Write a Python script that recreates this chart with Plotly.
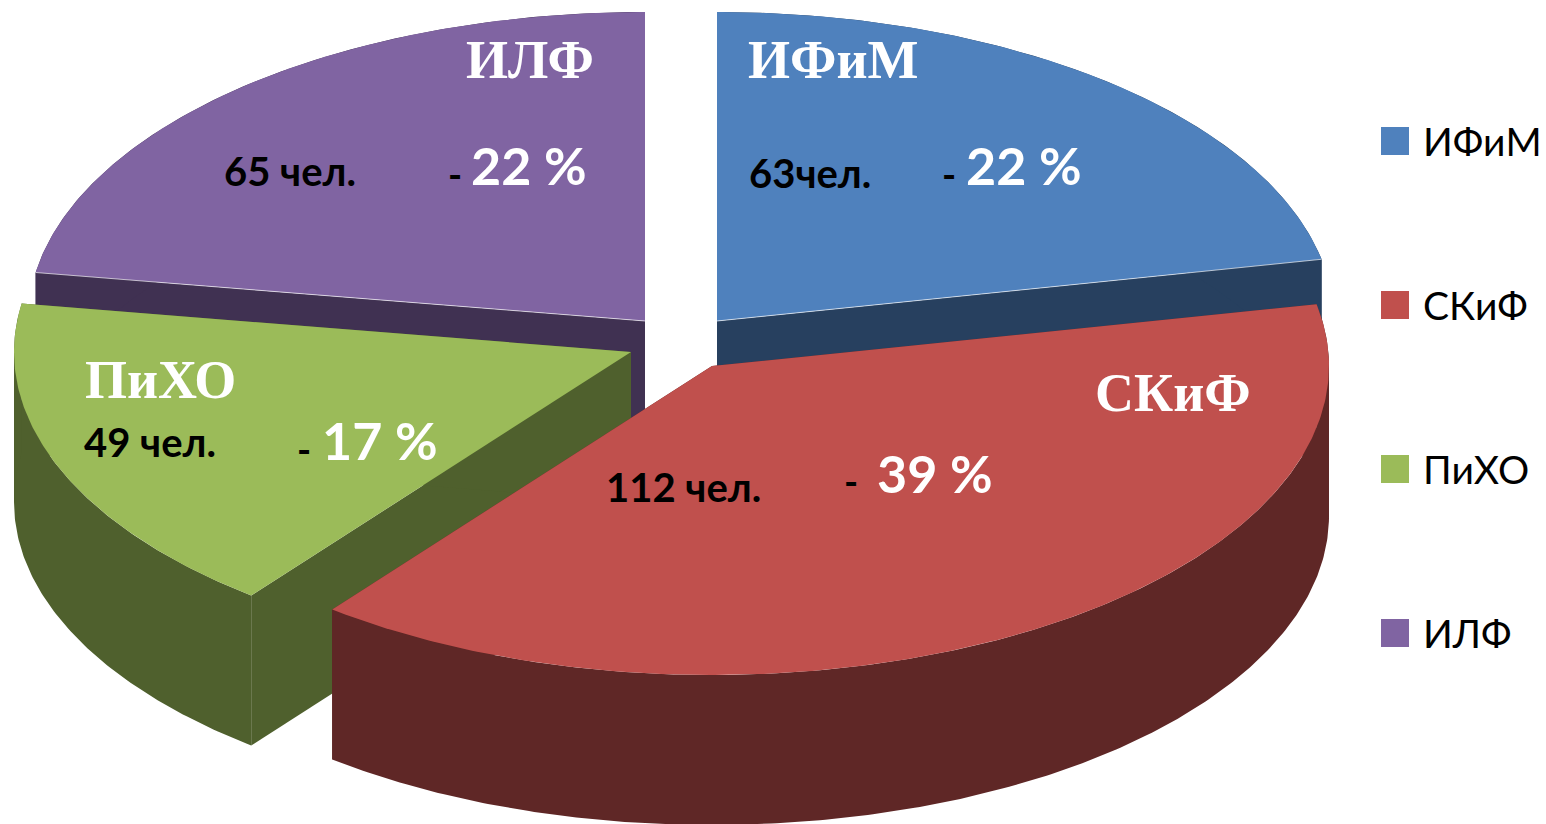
import numpy as np
import plotly.graph_objects as go

# ---- data ----
categories = ["ИФиМ", "СКиФ", "ПиХО", "ИЛФ"]
people = [63, 112, 49, 65]
percent_labels = ["22 %", "39 %", "17 %", "22 %"]
people_labels = ["63чел.", "112 чел.", "49 чел.", "65 чел."]

# ---- styles and layout ----
W, H = 1546, 824
top_colors = ["#4F81BD", "#C0504D", "#9BBB59", "#8064A2"]
side_colors = ["#27405F", "#5F2726", "#4F602D", "#403152"]
apex_x = [717, 712, 631, 645]
apex_y = [321, 366, 352, 321]
RX, RY, DEPTH = 617, 309, 150
draw_order = [3, 0, 2, 1]
highlight_edge = {0: -1, 3: 0}   # slice -> which end of its arc has a light seam

name_pos = [(746, 60), (1093, 393), (83, 380), (464, 60)]
count_pos = [(747, 173), (604, 487), (82, 442), (222, 171)]
dash_pos = [(940, 174), (842, 481), (295, 449), (446, 174)]
pct_pos = [(964, 165), (875, 473), (320, 440), (469, 165)]
LEGEND_X, LEGEND_Y, LEGEND_STEP, LEGEND_TEXT_X = 1395, 141, 164, 1421


def arc(cx, cy, a0, a1):
    t = np.radians(np.linspace(a0, a1, max(int(abs(a1 - a0)) * 2, 2)))
    return cx + RX * np.sin(t), cy - RY * np.cos(t)


def poly(x, y, color, name):
    return go.Scatter(
        x=np.append(x, x[0]), y=np.append(y, y[0]), mode="lines", fill="toself",
        fillcolor=color, line=dict(width=0, color=color), name=name,
        hoverinfo="name", showlegend=False,
    )


shares = np.array(people) / sum(people) * 360
starts = np.concatenate([[0], np.cumsum(shares)[:-1]])
ends = np.cumsum(shares)

fig = go.Figure()
for i in draw_order:
    cx, cy = apex_x[i], apex_y[i]
    ax, ay = arc(cx, cy, starts[i], ends[i])
    side = side_colors[i]
    name = categories[i]
    # radial walls
    for px, py in [(ax[0], ay[0]), (ax[-1], ay[-1])]:
        fig.add_trace(poly(np.array([cx, px, px, cx]),
                           np.array([cy, py, py + DEPTH, cy + DEPTH]), side, name))
    # outer wall, split where the ellipse turns back so the pieces do not cancel
    cuts = [starts[i]] + [a for a in (90, 270) if starts[i] < a < ends[i]] + [ends[i]]
    for a0, a1 in zip(cuts[:-1], cuts[1:]):
        wx, wy = arc(cx, cy, a0, a1)
        fig.add_trace(poly(np.concatenate([wx, wx[::-1]]),
                           np.concatenate([wy, wy[::-1] + DEPTH]), side, name))
    # top face
    fig.add_trace(poly(np.concatenate([[cx], ax]), np.concatenate([[cy], ay]),
                       top_colors[i], name))
    # light seam between top face and radial wall
    if i in highlight_edge:
        k = highlight_edge[i]
        fig.add_trace(go.Scatter(
            x=[cx, ax[k]], y=[cy, ay[k]], mode="lines", name=name,
            line=dict(width=1, color="rgba(255,255,255,0.65)"),
            hoverinfo="skip", showlegend=False,
        ))

# legend keys
for i, name in enumerate(categories):
    fig.add_trace(go.Scatter(
        x=[LEGEND_X], y=[LEGEND_Y + i * LEGEND_STEP], mode="markers",
        marker=dict(symbol="square", size=28, color=top_colors[i], line=dict(width=0)),
        name=name, showlegend=False, hoverinfo="name",
    ))


def label(x, y, text, family, size, color, bold=False):
    fig.add_annotation(
        x=x, y=y, text=f"<b>{text}</b>" if bold else text, showarrow=False,
        xanchor="left", yanchor="middle", align="left",
        font=dict(family=family, size=size, color=color),
    )


SERIF = "Liberation Serif"
SANS = "Lato"
for i in range(len(categories)):
    label(*name_pos[i], categories[i], SERIF, 54, "white", True)
    label(*count_pos[i], people_labels[i], SANS, 40, "black", True)
    label(*dash_pos[i], "-", SANS, 38, "black", True)
    label(*pct_pos[i], percent_labels[i], SANS, 52, "white", True)
    label(LEGEND_TEXT_X, LEGEND_Y + i * LEGEND_STEP, categories[i], SANS, 39, "black")

fig.update_layout(
    width=W, height=H, margin=dict(l=0, r=0, t=0, b=0), showlegend=False,
    paper_bgcolor="white", plot_bgcolor="white",
    xaxis=dict(range=[0, W], visible=False, fixedrange=True),
    yaxis=dict(range=[H, 0], visible=False, fixedrange=True),
)
fig.write_html("out.html", config={"displayModeBar": False},
               post_script="document.body.style.margin='0';document.body.style.overflow='hidden';")
